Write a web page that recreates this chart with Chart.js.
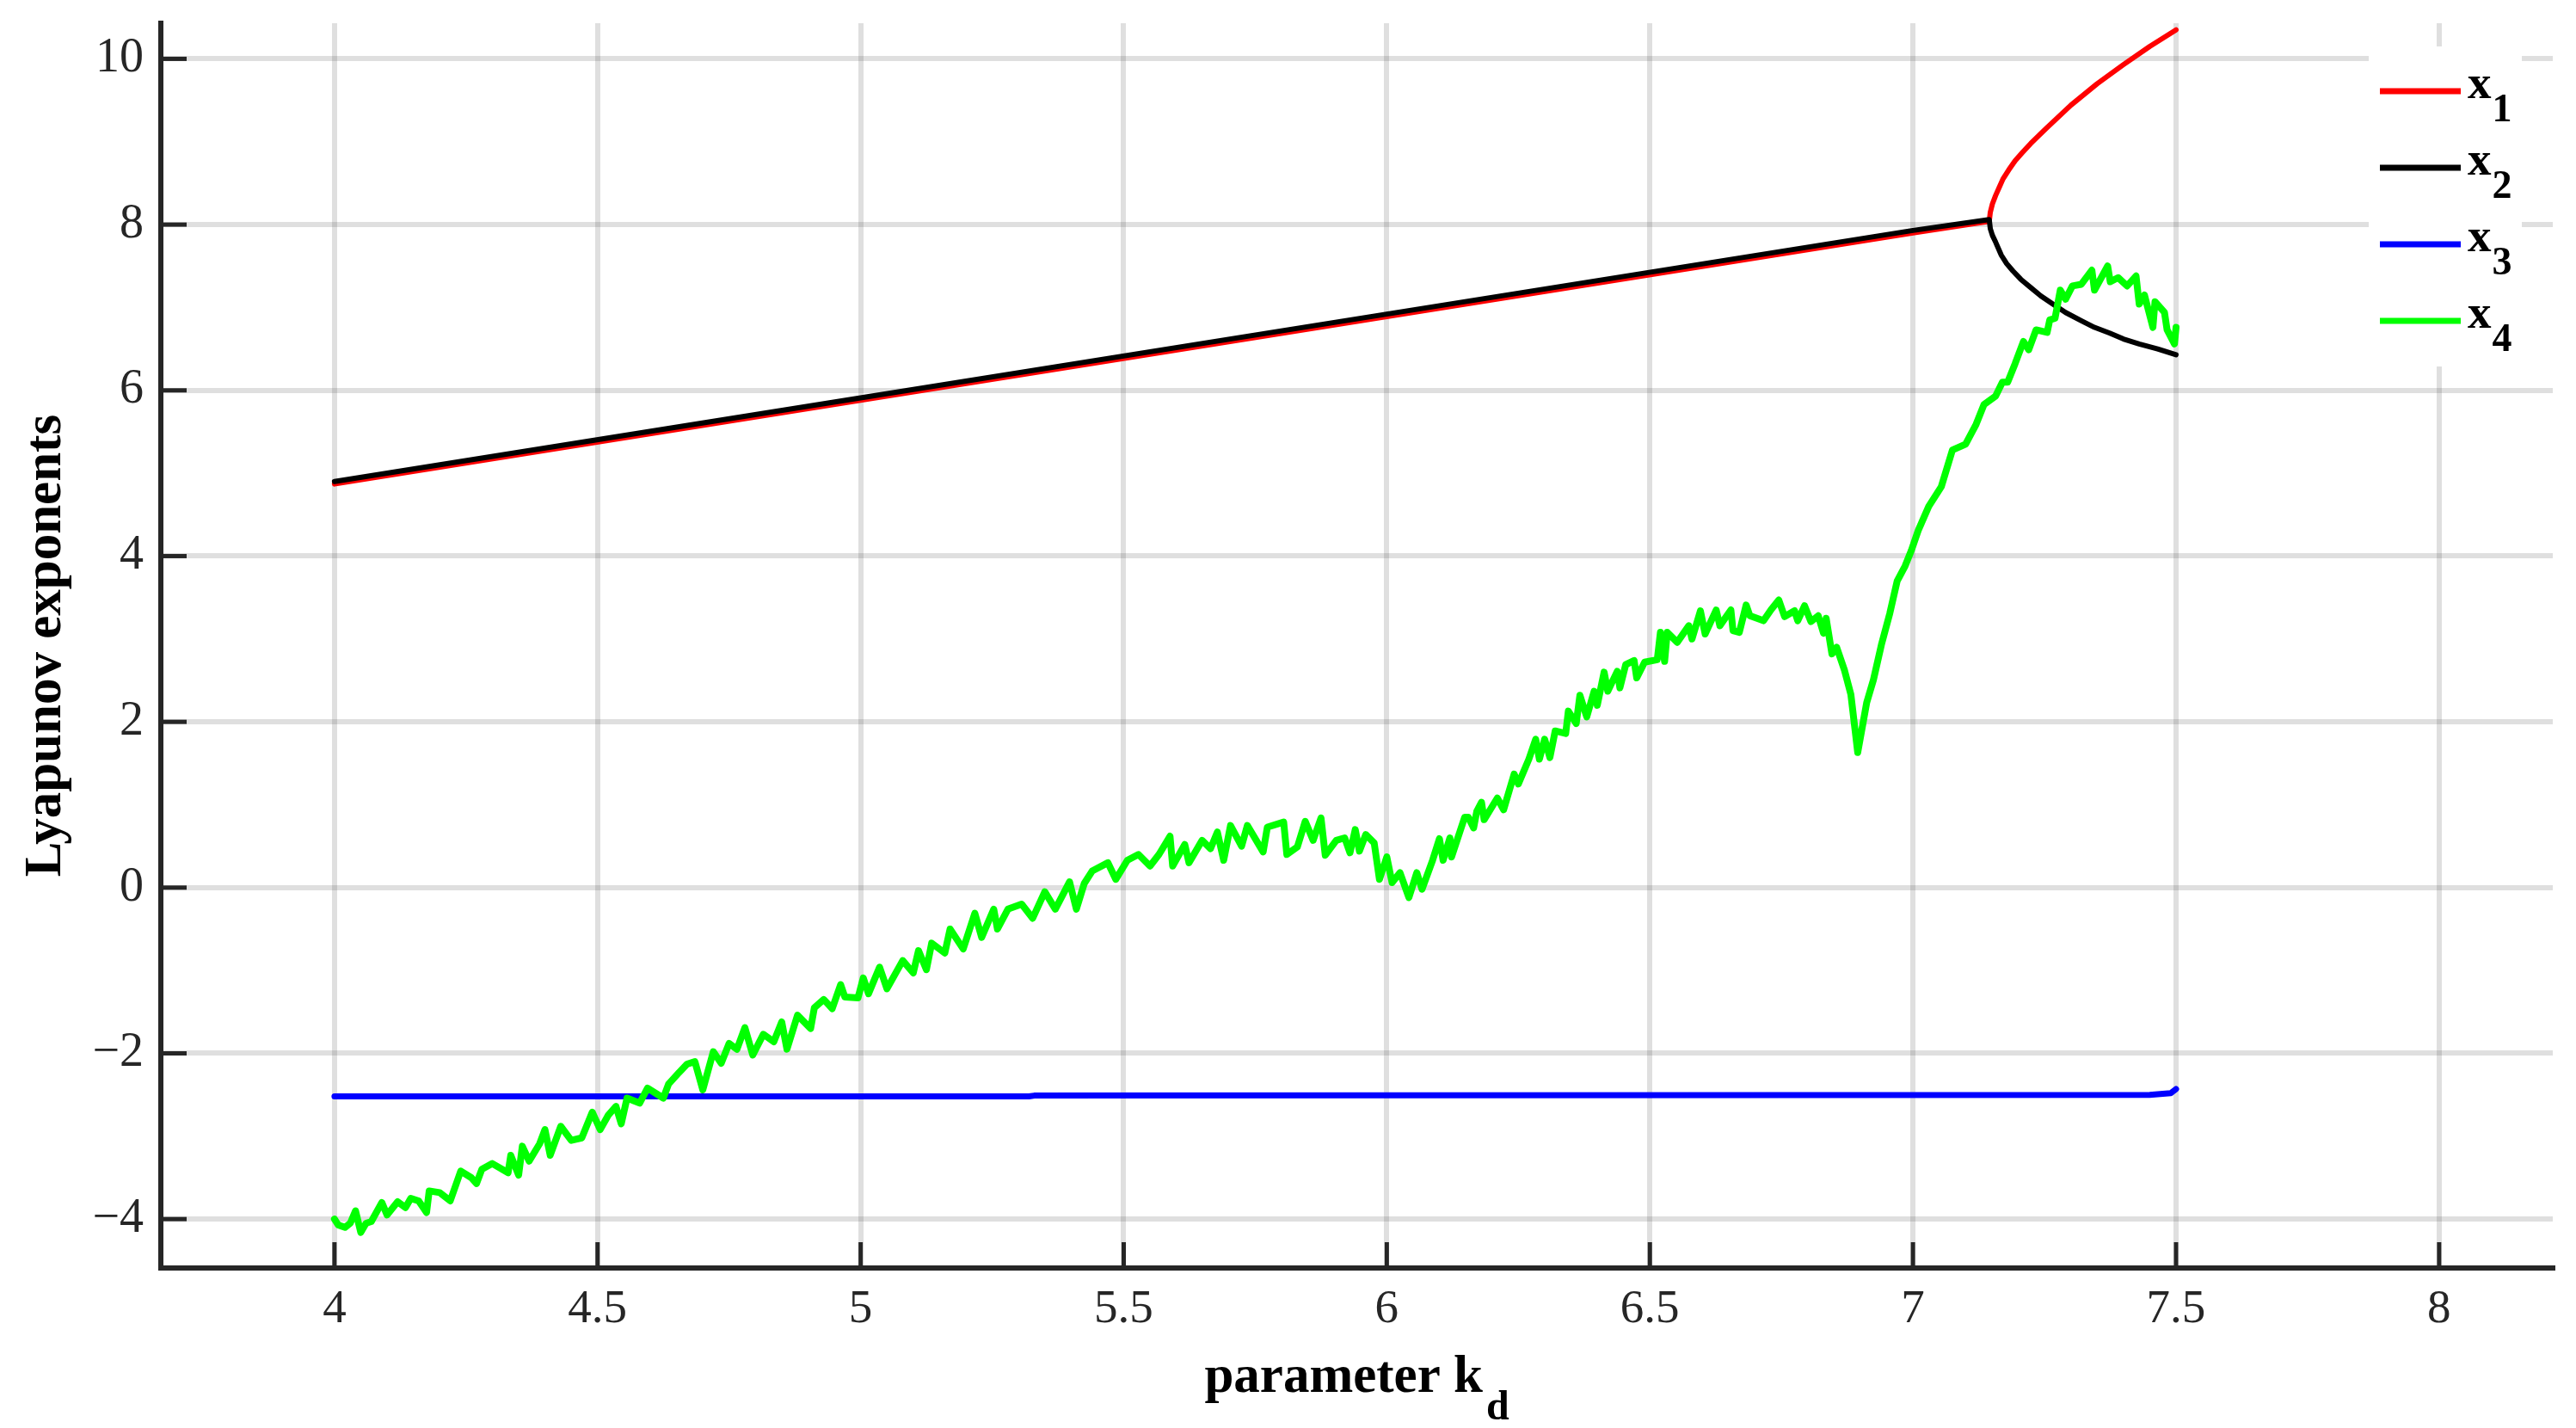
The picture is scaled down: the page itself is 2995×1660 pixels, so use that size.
<!DOCTYPE html>
<html>
<head>
<meta charset="utf-8">
<script src="https://cdn.jsdelivr.net/npm/chart.js@4.4.1/dist/chart.umd.min.js"></script>
<style>
  html, body { margin: 0; padding: 0; background: #fff; }
  #wrap { width: 2995px; height: 1660px; }
</style>
</head>
<body>
<div id="wrap"><canvas id="lyap" width="2995" height="1660"></canvas></div>
<script>
const xTicks = [4, 4.5, 5, 5.5, 6, 6.5, 7, 7.5, 8];
const yTicks = [-4, -2, 0, 2, 4, 6, 8, 10];
const seriesLabels = ['x1', 'x2', 'x3', 'x4'];
const seriesColors = ['#ff0000', '#000000', '#0000ff', '#00ff00'];

// x1 (red): shared line, then upper branch
const x1Kd  = [4.0, 5.0, 6.0, 7.0, 7.145, 7.147, 7.151, 7.157, 7.164, 7.171, 7.182, 7.194, 7.208, 7.224, 7.253, 7.3, 7.35, 7.4, 7.45, 7.5];
const x1Val = [4.87, 5.88, 6.89, 7.9, 8.04, 8.15, 8.25, 8.35, 8.45, 8.55, 8.66, 8.77, 8.87, 8.98, 9.16, 9.44, 9.7, 9.93, 10.15, 10.35];

// x2 (black): shared line, then lower branch
const x2Kd  = [4.0, 5.0, 6.0, 7.0, 7.145, 7.147, 7.151, 7.157, 7.168, 7.178, 7.19, 7.205, 7.222, 7.243, 7.266, 7.29, 7.32, 7.345, 7.374, 7.4, 7.43, 7.465, 7.5];
const x2Val = [4.9, 5.91, 6.92, 7.93, 8.06, 7.95, 7.87, 7.79, 7.63, 7.53, 7.44, 7.34, 7.25, 7.14, 7.04, 6.94, 6.84, 6.76, 6.69, 6.62, 6.56, 6.5, 6.43];

// x3 (blue)
const x3Kd  = [4.0, 5.32, 5.33, 7.45, 7.49, 7.5];
const x3Val = [-2.52, -2.52, -2.51, -2.5, -2.48, -2.43];

// x4 (green)
const x4Kd = [
  4.0, 4.007, 4.02, 4.03, 4.04, 4.05, 4.06, 4.07, 4.09, 4.1, 4.12, 4.135, 4.145, 4.16, 4.175, 4.18,
  4.2, 4.22, 4.24, 4.26, 4.27, 4.28, 4.3, 4.33, 4.335, 4.35, 4.357, 4.37, 4.39, 4.4, 4.41, 4.43,
  4.45, 4.47, 4.49, 4.505, 4.52, 4.535, 4.545, 4.556, 4.58, 4.595, 4.625, 4.635, 4.655, 4.67, 4.685, 4.7,
  4.72, 4.735, 4.75, 4.765, 4.78, 4.795, 4.815, 4.835, 4.85, 4.86, 4.88, 4.905, 4.912, 4.93, 4.946, 4.962,
  4.97, 4.995, 5.005, 5.015, 5.036, 5.05, 5.08, 5.1, 5.11, 5.125, 5.135, 5.16, 5.17, 5.195, 5.217, 5.23,
  5.253, 5.26, 5.28, 5.306, 5.327, 5.35, 5.37, 5.397, 5.41, 5.425, 5.44, 5.47, 5.485, 5.507, 5.528, 5.55,
  5.567, 5.588, 5.593, 5.616, 5.624, 5.649, 5.665, 5.678, 5.69, 5.703, 5.724, 5.735, 5.765, 5.773, 5.804, 5.81,
  5.83, 5.845, 5.86, 5.875, 5.883, 5.904, 5.92, 5.93, 5.94, 5.948, 5.96, 5.976, 5.986, 6.0, 6.01, 6.025,
  6.042, 6.057, 6.067, 6.087, 6.1, 6.107, 6.12, 6.123, 6.148, 6.155, 6.165, 6.171, 6.18, 6.185, 6.21, 6.222,
  6.242, 6.25, 6.27, 6.283, 6.29, 6.3, 6.31, 6.32, 6.34, 6.345, 6.36, 6.367, 6.38, 6.394, 6.4, 6.413,
  6.42, 6.438, 6.443, 6.454, 6.47, 6.475, 6.49, 6.514, 6.52, 6.528, 6.533, 6.552, 6.574, 6.58, 6.596, 6.605,
  6.626, 6.633, 6.654, 6.658, 6.67, 6.683, 6.69, 6.716, 6.73, 6.745, 6.756, 6.775, 6.781, 6.794, 6.806, 6.82,
  6.83, 6.835, 6.846, 6.855, 6.87, 6.882, 6.895, 6.912, 6.925, 6.94, 6.956, 6.97, 6.985, 6.997, 7.01, 7.03,
  7.054, 7.075, 7.1, 7.12, 7.135, 7.157, 7.17, 7.18, 7.194, 7.21, 7.22, 7.234, 7.255, 7.26, 7.27, 7.28,
  7.29, 7.303, 7.32, 7.34, 7.345, 7.37, 7.375, 7.39, 7.407, 7.424, 7.43, 7.44, 7.456, 7.46, 7.478, 7.483,
  7.497, 7.5
];
const x4Val = [
  -4.0, -4.07, -4.1, -4.05, -3.9, -4.16, -4.05, -4.03, -3.8, -3.95, -3.79, -3.86, -3.75, -3.78, -3.92, -3.66,
  -3.68, -3.78, -3.42, -3.5, -3.57, -3.4, -3.33, -3.44, -3.23, -3.47, -3.12, -3.3, -3.09, -2.92, -3.23, -2.88,
  -3.05, -3.02, -2.71, -2.92, -2.75, -2.64, -2.85, -2.54, -2.6, -2.42, -2.54, -2.37, -2.23, -2.13, -2.1, -2.44,
  -1.98, -2.12, -1.88, -1.95, -1.69, -2.02, -1.77, -1.86, -1.62, -1.95, -1.54, -1.7, -1.45, -1.35, -1.46, -1.17,
  -1.32, -1.33, -1.09, -1.28, -0.96, -1.22, -0.88, -1.03, -0.76, -0.99, -0.67, -0.79, -0.5, -0.74, -0.31, -0.6,
  -0.26, -0.5, -0.26, -0.2, -0.37, -0.05, -0.26, 0.07, -0.26, 0.05, 0.2, 0.3, 0.1, 0.33, 0.4, 0.26,
  0.4, 0.62, 0.26, 0.52, 0.3, 0.57, 0.47, 0.67, 0.33, 0.75, 0.5, 0.75, 0.43, 0.73, 0.79, 0.4,
  0.49, 0.8, 0.57, 0.84, 0.39, 0.57, 0.6, 0.42, 0.7, 0.44, 0.64, 0.54, 0.1, 0.37, 0.06, 0.18,
  -0.12, 0.18, -0.02, 0.33, 0.59, 0.33, 0.6, 0.37, 0.85, 0.85, 0.72, 0.92, 1.03, 0.82, 1.08, 0.94,
  1.37, 1.25, 1.55, 1.79, 1.55, 1.79, 1.57, 1.89, 1.86, 2.13, 1.98, 2.32, 2.06, 2.37, 2.2, 2.6,
  2.37, 2.61, 2.41, 2.69, 2.74, 2.53, 2.72, 2.75, 3.08, 2.73, 3.08, 2.96, 3.16, 3.0, 3.34, 3.06,
  3.35, 3.16, 3.35, 3.1, 3.08, 3.41, 3.28, 3.22, 3.35, 3.47, 3.27, 3.34, 3.22, 3.4, 3.21, 3.28,
  3.07, 3.25, 2.82, 2.9, 2.62, 2.33, 1.63, 2.23, 2.51, 2.93, 3.31, 3.7, 3.88, 4.07, 4.31, 4.6,
  4.84, 5.28, 5.35, 5.59, 5.83, 5.93, 6.1, 6.1, 6.32, 6.59, 6.49, 6.73, 6.7, 6.85, 6.87, 7.21,
  7.1, 7.26, 7.28, 7.45, 7.21, 7.5, 7.31, 7.36, 7.26, 7.38, 7.04, 7.15, 6.76, 7.07, 6.94, 6.73,
  6.56, 6.76
];

const AXIS = '#262626';
const SERIF = '"Liberation Serif", "Times New Roman", serif';

function pts(xs, ys) {
  return xs.map((x, i) => ({ x: x, y: ys[i] }));
}

const seriesX = [x1Kd, x2Kd, x3Kd, x4Kd];
const seriesY = [x1Val, x2Val, x3Val, x4Val];
const seriesWidth = [6, 6, 7, 8];

const datasets = seriesLabels.map((label, i) => ({
  label: label,
  data: pts(seriesX[i], seriesY[i]),
  borderColor: seriesColors[i],
  backgroundColor: seriesColors[i],
  borderWidth: seriesWidth[i],
  pointRadius: 0,
  showLine: true,
  fill: false,
  tension: 0,
  borderJoinStyle: 'round',
  borderCapStyle: 'round',
  order: 4 - i
}));

// inward tick marks, x-axis title with subscript, legend box
const decorations = {
  id: 'decorations',
  beforeDatasetsDraw(chart) {
    const ctx = chart.ctx;
    const area = chart.chartArea;
    const xs = chart.scales.x, ys = chart.scales.y;
    ctx.save();
    ctx.strokeStyle = AXIS;
    ctx.lineWidth = 5;
    xTicks.forEach(v => {
      const px = xs.getPixelForValue(v);
      ctx.beginPath();
      ctx.moveTo(px, area.bottom);
      ctx.lineTo(px, area.bottom - 30);
      ctx.stroke();
    });
    yTicks.forEach(v => {
      const py = ys.getPixelForValue(v);
      ctx.beginPath();
      ctx.moveTo(area.left, py);
      ctx.lineTo(area.left + 30, py);
      ctx.stroke();
    });
    ctx.restore();
  },
  afterDraw(chart) {
    const ctx = chart.ctx;
    const area = chart.chartArea;
    ctx.save();

    // x title: parameter k_d
    const mainFont = 'bold 61px ' + SERIF;
    const subFont = 'bold 48px ' + SERIF;
    ctx.fillStyle = '#000';
    ctx.textBaseline = 'alphabetic';
    ctx.textAlign = 'left';
    ctx.font = mainFont;
    const w1 = ctx.measureText('parameter k').width;
    ctx.font = subFont;
    const w2 = ctx.measureText('d').width;
    const x0 = (area.left + area.right) / 2 - (w1 + 4 + w2) / 2;
    const base = area.bottom + 144;
    ctx.font = mainFont;
    ctx.fillText('parameter k', x0, base);
    ctx.font = subFont;
    ctx.fillText('d', x0 + w1 + 4, base + 32);

    // legend
    const boxL = 2754, boxT = 54, boxR = 2932, boxB = 426;
    ctx.fillStyle = '#fff';
    ctx.fillRect(boxL, boxT, boxR - boxL, boxB - boxT);
    chart.data.datasets.forEach((ds, i) => {
      const cy = 106 + i * 89;
      ctx.strokeStyle = ds.borderColor;
      ctx.lineWidth = 7;
      ctx.beginPath();
      ctx.moveTo(2767, cy);
      ctx.lineTo(2861, cy);
      ctx.stroke();
      ctx.fillStyle = '#000';
      ctx.font = 'bold 55px ' + SERIF;
      const head = ds.label.charAt(0);
      const tail = ds.label.slice(1);
      ctx.fillText(head, 2869, cy + 8);
      const hw = ctx.measureText(head).width;
      ctx.font = 'bold 46px ' + SERIF;
      ctx.fillText(tail, 2869 + hw + 1, cy + 35);
    });
    ctx.restore();
  }
};

new Chart(document.getElementById('lyap').getContext('2d'), {
  type: 'scatter',
  data: { datasets: datasets },
  options: {
    responsive: false,
    animation: false,
    layout: { padding: { top: 27, right: 27, left: 0, bottom: 0 } },
    plugins: {
      legend: { display: false },
      tooltip: { enabled: false }
    },
    scales: {
      x: {
        type: 'linear',
        min: 3.67,
        max: 8.216,
        grid: { color: 'rgba(38,38,38,0.15)', lineWidth: 6, drawTicks: false },
        border: { display: true, color: AXIS, width: 6 },
        ticks: {
          font: { family: SERIF, size: 55 },
          color: AXIS,
          padding: 16,
          maxRotation: 0,
          autoSkip: false,
          callback: v => String(v)
        },
        afterBuildTicks: s => { s.ticks = xTicks.map(v => ({ value: v })); },
        afterFit: s => { s.height = 186; s.paddingLeft = 0; s.paddingRight = 0; }
      },
      y: {
        type: 'linear',
        min: -4.59,
        max: 10.43,
        grid: { color: 'rgba(38,38,38,0.15)', lineWidth: 6, drawTicks: false },
        border: { display: true, color: AXIS, width: 6 },
        ticks: {
          font: { family: SERIF, size: 56 },
          color: AXIS,
          padding: 20,
          autoSkip: false,
          callback: v => (v < 0 ? '\u2212' + Math.abs(v) : String(v))
        },
        title: {
          display: true,
          text: 'Lyapunov exponents',
          font: { family: SERIF, size: 61, weight: 'bold' },
          color: '#000',
          padding: { top: 18, bottom: 0 }
        },
        afterBuildTicks: s => { s.ticks = yTicks.map(v => ({ value: v })); },
        afterFit: s => { s.width = 187; s.paddingTop = 0; s.paddingBottom = 0; }
      }
    }
  },
  plugins: [decorations]
});
</script>
</body>
</html>
